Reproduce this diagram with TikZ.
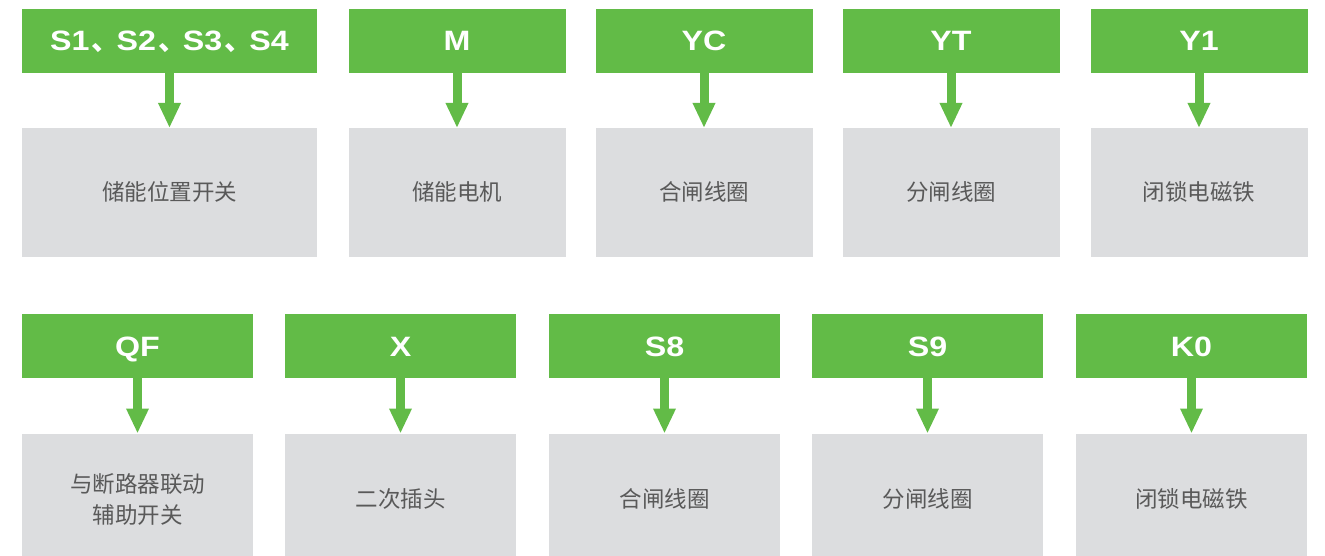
\documentclass[tikz,border=0pt]{standalone}
\usepackage{fontspec}
\setmainfont{Liberation Sans}
\newfontfamily\hdrfont{Liberation Sans}[FakeStretch=1.15]
\newfontfamily\cjk{Noto Sans CJK SC}
\usetikzlibrary{arrows.meta}
\definecolor{hdgreen}{HTML}{62BB47}
\definecolor{boxgray}{HTML}{DCDDDF}
\definecolor{txtgray}{HTML}{595959}
\tikzset{
  hdr/.style={fill=hdgreen, inner sep=0pt, outer sep=0pt, text=white, font=\hdrfont\fontsize{28}{30}\selectfont\bfseries, minimum height=63.5pt, text height=20pt, text depth=0pt},
  body/.style={fill=boxgray, inner sep=0pt, outer sep=0pt, text=txtgray, font=\cjk\fontsize{22.5}{31}\selectfont, align=center},
  link/.style={draw=hdgreen, line width=9pt, -{Triangle[width=21pt,length=25pt]}}
}
\newcommand{\dun}{\hspace{2pt}{\cjk 、}\hspace{-3pt}}
\begin{document}
\begin{tikzpicture}[x=1pt,y=-1pt]
\useasboundingbox (0,0) rectangle (1325,556);
\clip (0,0) rectangle (1325,556);
% top row
\node[hdr, minimum width=295pt] (h1) at (169.5,41) {S1\dun S2\dun S3\dun S4};
\node[hdr, minimum width=217pt] (h2) at (457,41) {M};
\node[hdr, minimum width=217pt] (h3) at (704,41) {YC};
\node[hdr, minimum width=217pt] (h4) at (951,41) {YT};
\node[hdr, minimum width=217pt] (h5) at (1199,41) {Y1};
\node[body, minimum width=295pt, minimum height=128.5pt] (b1) at (169.5,192.25) {储能位置开关};
\node[body, minimum width=217pt, minimum height=128.5pt] (b2) at (457,192.25) {储能电机};
\node[body, minimum width=217pt, minimum height=128.5pt] (b3) at (704,192.25) {合闸线圈};
\node[body, minimum width=217pt, minimum height=128.5pt] (b4) at (951,192.25) {分闸线圈};
\node[body, minimum width=217pt, minimum height=128.5pt] (b5) at (1199,192.25) {闭锁电磁铁};
% bottom row
\node[hdr, minimum width=231pt] (h6) at (137.5,346) {QF};
\node[hdr, minimum width=231pt] (h7) at (400.5,346) {X};
\node[hdr, minimum width=231pt] (h8) at (664.5,346) {S8};
\node[hdr, minimum width=231pt] (h9) at (927.5,346) {S9};
\node[hdr, minimum width=231pt] (h10) at (1191.5,346) {K0};
\node[body, minimum width=231pt, minimum height=131.5pt] (b6) at (137.5,499.25) {与断路器联动\\辅助开关};
\node[body, minimum width=231pt, minimum height=131.5pt] (b7) at (400.5,499.25) {二次插头};
\node[body, minimum width=231pt, minimum height=131.5pt] (b8) at (664.5,499.25) {合闸线圈};
\node[body, minimum width=231pt, minimum height=131.5pt] (b9) at (927.5,499.25) {分闸线圈};
\node[body, minimum width=231pt, minimum height=131.5pt] (b10) at (1191.5,499.25) {闭锁电磁铁};
\foreach \i in {1,...,10} { \draw[link] (h\i.south) -- (b\i.north); }
\end{tikzpicture}
\end{document}
